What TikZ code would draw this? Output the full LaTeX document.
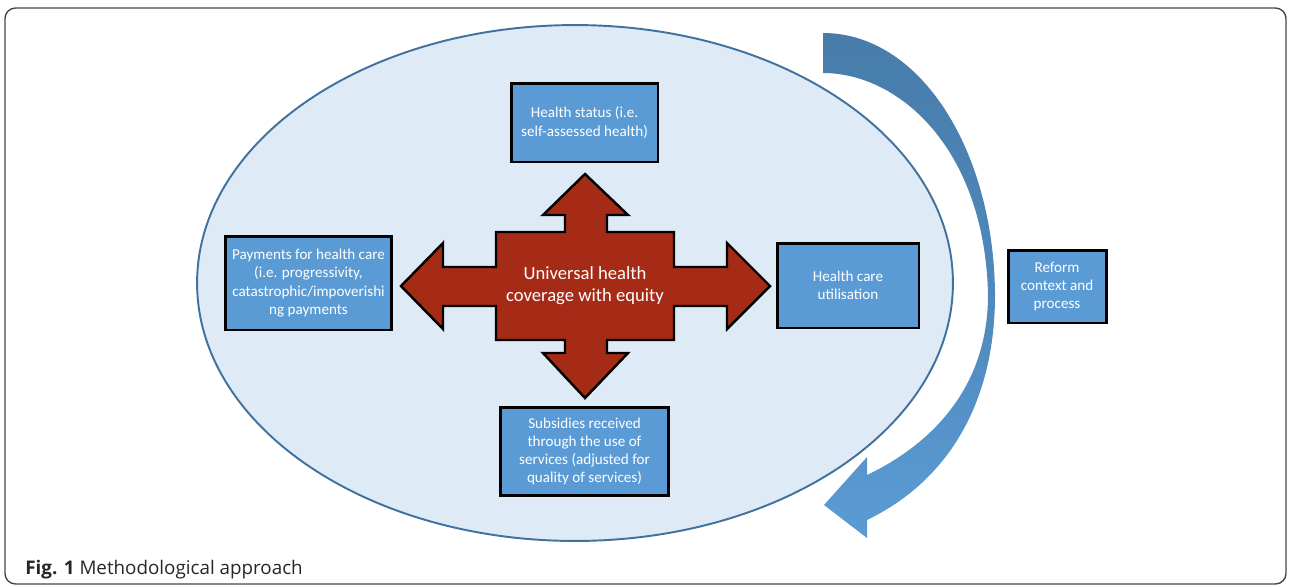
\documentclass[tikz,border=0pt]{standalone}
\usepackage{fontspec}
\setmainfont{Carlito}
\newfontfamily\capfont{Open Sans}
\usetikzlibrary{shapes}
\usetikzlibrary{positioning}
\definecolor{ovalfill}{RGB}{222,235,247}
\definecolor{ovalline}{RGB}{65,113,156}
\definecolor{boxblue}{RGB}{91,155,213}
\definecolor{crossred}{RGB}{166,43,22}
\definecolor{loopdark}{RGB}{71,124,170}
\definecolor{framegray}{RGB}{70,70,70}
\tikzset{
    infobox/.style = {rectangle, draw=black, line width=1.7pt, fill=boxblue, text=white,
                      align=center, inner sep=2pt, font=\fontsize{8.6}{10.4}\selectfont},
    hub/.style = {draw=black, line width=1.4pt, fill=crossred},
    hubtext/.style = {text=white, align=center, font=\fontsize{10.6}{12.6}\selectfont},
    oval/.style = {ellipse, draw=ovalline, line width=1.1pt, fill=ovalfill},
    loop/.style = {top color=loopdark, bottom color=boxblue, middle color=loopdark!60!boxblue}
}

\begin{document}
\begin{tikzpicture}[x=0.02cm,y=-0.02cm]
\useasboundingbox (0,0) rectangle (1290,586);
\draw[framegray, line width=0.8pt, rounded corners=6pt] (5,8) rectangle (1286,584);
%
\node[oval, minimum width=15.12cm, minimum height=10.32cm] at (575,283) (ring) {};
%
\shade[loop] (823,33) .. controls (920,33) and (994,150) .. (995,295)
    .. controls (995,400) and (950,480) .. (867,520) -- (867,538) -- (824,505)
    -- (867,457) -- (867,475) .. controls (940,440) and (988,380) .. (988,295)
    .. controls (985,150) and (900,73) .. (823,73) -- cycle;
%
\draw[hub] (496,232) -- (565,232) -- (565,215) -- (543,215) -- (585,174) -- (628,215)
    -- (607,215) -- (607,232) -- (674,232) -- (674,267) -- (727,267) -- (727,243)
    -- (770,286) -- (727,329) -- (727,306) -- (674,306) -- (674,340) -- (607,340)
    -- (607,353) -- (628,353) -- (585,398) -- (543,353) -- (565,353) -- (565,340)
    -- (496,340) -- (496,306) -- (443,306) -- (443,329) -- (401,286) -- (443,243)
    -- (443,267) -- (496,267) -- cycle;
\node[hubtext] at (585,286) (uhc) {Universal health\\coverage with equity};
%
\node[infobox, minimum width=2.94cm, minimum height=1.58cm] at (584.5,122.5) (status)
    {Health status (i.e.\\self-assessed health)};
\node[infobox, minimum width=3.34cm, minimum height=1.88cm] at (308.5,283) (pay)
    {Payments for health care\\(i.e. progressivity,\\catastrophic/impoverishi\\ng payments};
\node[infobox, minimum width=2.84cm, minimum height=1.7cm] at (848,285.5) (use)
    {Health care\\utilisation};
\node[infobox, minimum width=3.36cm, minimum height=1.76cm] at (584.5,451.5) (subsidy)
    {Subsidies received\\through the use of\\services (adjusted for\\quality of services)};
\node[infobox, minimum width=1.96cm, minimum height=1.46cm] at (1057,286.5) (reform)
    {Reform\\context and\\process};
%
\node[anchor=base west, inner sep=0pt, text=black!85, font=\capfont\fontsize{10.7}{12.8}\selectfont]
    at (25,574) (caption) {\textbf{Fig. 1} Methodological approach};
\end{tikzpicture}
\end{document}
